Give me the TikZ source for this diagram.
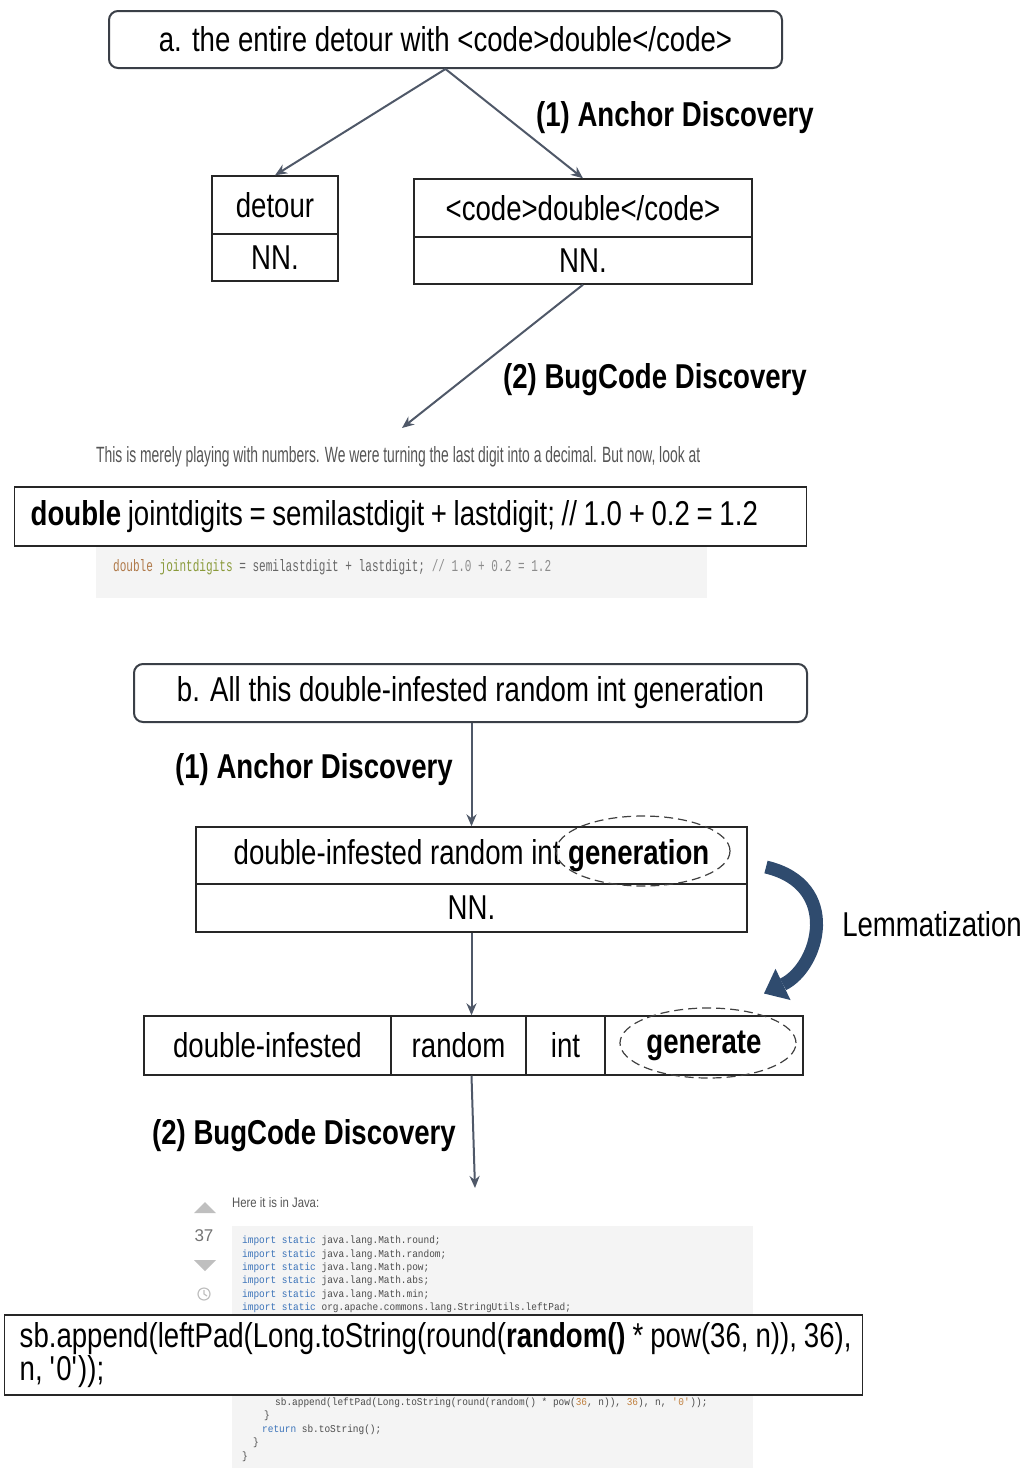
\documentclass[tikz,border=0pt]{standalone}
\usepackage{fontspec}
\usepackage{graphicx}
\setmainfont{Liberation Sans}[FakeStretch=0.8]
\newfontfamily\shotfnt{Liberation Sans}
\newfontfamily\codefnt{Liberation Mono}[FakeStretch=0.9]
\usetikzlibrary{arrows.meta}
\definecolor{arr}{HTML}{4F5868}
\definecolor{titlec}{HTML}{3A3F47}
\definecolor{lemc}{HTML}{2F4B6E}
\definecolor{shotbg}{HTML}{F4F4F4}
\definecolor{shottxt}{HTML}{555555}
\definecolor{kwblue}{HTML}{3B73B9}
\definecolor{numor}{HTML}{C0803F}
\definecolor{dbrown}{HTML}{B07A4A}
\definecolor{olive}{HTML}{8A9A3A}
\newcommand\bigfnt{\fontsize{34.5}{33}\selectfont}
\begin{document}
\begin{tikzpicture}[x=1pt,y=-1pt,
  big/.style={font=\bigfnt},
  lbl/.style={font=\bigfnt\bfseries, inner sep=0pt},
  titlebox/.style={draw=titlec, line width=2pt, rounded corners=9pt, big, inner sep=0pt, fill=white},
  cell/.style={draw=black!85, line width=1.4pt, big, inner sep=0pt, fill=white},
  conn/.style={draw=arr, line width=2pt, -{Stealth[length=12pt,width=10pt]}},
  small/.style={inner sep=0pt, anchor=west, text=shottxt},
  code/.style={inner sep=0pt, anchor=west, text=black!70, font=\codefnt\fontsize{10.5}{12}\selectfont},
]
\useasboundingbox (0,0) rectangle (1027,1468);

% ---------------- part a ----------------
\node[titlebox, minimum width=673pt, minimum height=57pt] (ta) at (445.5,39.5)
  {a. the entire detour with <code>double</code>};

\node[cell, minimum width=126pt, minimum height=58pt] (detw) at (275,205) {detour};
\node[cell, minimum width=126pt, minimum height=47pt] (detp) at (275,257.5) {NN.};
\node[cell, minimum width=338pt, minimum height=58pt] (codw) at (583,208) {<code>double</code>};
\node[cell, minimum width=338pt, minimum height=47pt] (codp) at (583,260.5) {NN.};

\draw[conn] (ta.south) -- (detw.north);
\draw[conn] (ta.south) -- (codw.north);
\node[lbl] (lblA1) at (675,118) {(1) Anchor Discovery};

\coordinate (scrA) at (402,428);
\draw[conn] (codp.south) -- (scrA);
\node[lbl] (lblA2) at (655,380) {(2) BugCode Discovery};

% screenshot a
\fill[shotbg] (96,546) rectangle (707,598);
\node[small] (shotA) at (96,457)
  {\resizebox{604pt}{16pt}{\shotfnt This is merely playing with numbers. We were turning the last digit into a decimal. But now, look at}};
\node[small] (shotAcode) at (113,567)
  {\resizebox{438pt}{12pt}{\codefnt\textcolor{dbrown}{double} \textcolor{olive}{jointdigits} \textcolor{black!60}{= semilastdigit + lastdigit;} \textcolor{black!45}{// 1.0 + 0.2 = 1.2}}};

\node[cell, anchor=west, minimum width=792pt, minimum height=59pt, text width=776pt, align=left, inner xsep=8pt] (codeA) at (14,516.5)
  {\mbox{\spaceskip=6.7pt\relax\hspace*{8pt}\textbf{double} jointdigits = semilastdigit + lastdigit; // 1.0 + 0.2 = 1.2}};

% ---------------- part b ----------------
\node[titlebox, minimum width=673pt, minimum height=58pt] (tb) at (470.5,693)
  {b. All this double-infested random int generation};

\node[cell, minimum width=551pt, minimum height=57pt] (bw) at (471.5,855.5)
  {double-infested random int \textbf{generation}};
\node[cell, minimum width=551pt, minimum height=48pt] (bp) at (471.5,908) {NN.};

\draw[conn] (tb.south -| bp.south) -- (bw.north -| bp.south);
\node[lbl] (lblB1) at (314,770) {(1) Anchor Discovery};

\node[cell, minimum width=247pt, minimum height=59pt] (c1) at (267.5,1045.5) {double-infested};
\node[cell, minimum width=135pt, minimum height=59pt] (c2) at (458.5,1045.5) {random};
\node[cell, minimum width=79pt, minimum height=59pt] (c3) at (565.5,1045.5) {int};
\node[cell, minimum width=198pt, minimum height=59pt] (c4) at (704,1045.5) {\textbf{generate}};

\draw[conn] (bp.south) -- (bp.south |- c2.north);

\draw[black!75, line width=1.2pt, dash pattern=on 9pt off 5pt] (643,851) ellipse [x radius=87pt, y radius=35pt];
\draw[black!75, line width=1.2pt, dash pattern=on 9pt off 5pt] (708,1043) ellipse [x radius=88pt, y radius=35pt];

% lemmatization
\coordinate (lemS) at (766,867);
\coordinate (lemE) at (783,984.4);
\coordinate (lemT) at (764,993.5);
\draw[lemc, line width=13pt] (lemS) .. controls (842,885) and (819,967) .. (lemE);
\fill[lemc] (lemT) -- (790.5,1000) -- (775.5,968.8) -- cycle;
\node[big, inner sep=0pt] (lemt) at (932,924) {Lemmatization};

\coordinate (scrB) at (475,1188);
\draw[conn] (bp.south |- c2.south) -- (scrB);
\node[lbl] (lblB2) at (304,1136) {(2) BugCode Discovery};

% screenshot b
\fill[shotbg] (232,1226) rectangle (753,1468);
\node[small] (here) at (232,1203) {\resizebox{87pt}{10pt}{\shotfnt Here it is in Java:}};
\fill[black!25] (194,1213) -- (216,1213) -- (205,1202) -- cycle;
\fill[black!25] (194,1260) -- (216,1260) -- (205,1271) -- cycle;
\node[inner sep=0pt, text=black!55, font=\shotfnt\fontsize{17}{18}\selectfont] (votes) at (204,1236) {37};
\draw[black!25, line width=1.2pt] (204,1294) circle (6pt);
\draw[black!25, line width=1.2pt] (204,1290) -- (204,1294) -- (207,1296);

\node[code] (imp1) at (242,1241) {\textcolor{kwblue}{import static} java.lang.Math.round;};
\node[code] (imp2) at (242,1254.4) {\textcolor{kwblue}{import static} java.lang.Math.random;};
\node[code] (imp3) at (242,1267.8) {\textcolor{kwblue}{import static} java.lang.Math.pow;};
\node[code] (imp4) at (242,1281.2) {\textcolor{kwblue}{import static} java.lang.Math.abs;};
\node[code] (imp5) at (242,1294.6) {\textcolor{kwblue}{import static} java.lang.Math.min;};
\node[code] (imp6) at (242,1308) {\textcolor{kwblue}{import static} org.apache.commons.lang.StringUtils.leftPad;};

\node[code] (sbl) at (275,1403) {sb.append(leftPad(Long.toString(round(random() * pow(\textcolor{numor}{36}, n)), \textcolor{numor}{36}), n, \textcolor{numor}{\textquotesingle 0\textquotesingle}));};
\node[code] (br1) at (264,1416) {\}};
\node[code] (ret) at (262,1430) {\textcolor{kwblue}{return} sb.toString();};
\node[code] (br2) at (253,1443) {\}};
\node[code] (br3) at (242,1457) {\}};

\node[cell, anchor=west, minimum width=858pt, minimum height=80pt, text width=850pt, align=left, inner xsep=4pt] (codeB) at (4,1355)
  {\mbox{\spaceskip=7pt\relax\hspace*{11pt}sb.append(leftPad(Long.toString(round(\textbf{random()} * pow(36, n)), 36),}\\ \mbox{\spaceskip=7pt\relax\hspace*{11pt}n, \textquotesingle 0\textquotesingle));}};
\end{tikzpicture}
\end{document}
